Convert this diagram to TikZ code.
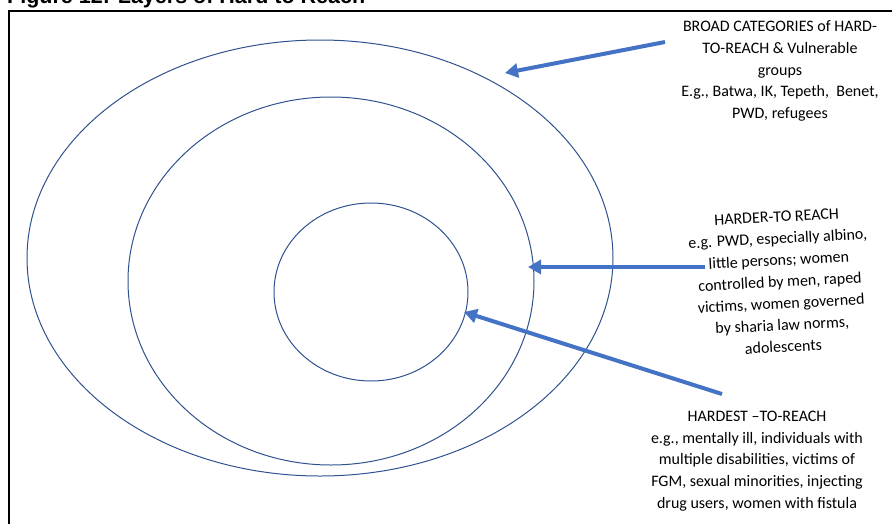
\documentclass[tikz,border=0pt]{standalone}
\usepackage{fontspec}
\setmainfont{Carlito}
\newfontfamily\titlefont{Liberation Sans}
\usetikzlibrary{shapes.geometric,arrows.meta}
\definecolor{ringblue}{HTML}{2F528F}
\definecolor{arrowblue}{HTML}{4472C4}
\tikzset{
  ring/.style={ellipse, draw=ringblue, line width=1pt, inner sep=0pt},
  pointer/.style={draw=arrowblue, line width=4pt,
    -{Triangle[length=13pt,width=14pt]}},
  label/.style={align=center, font=\fontsize{16}{21.7}\selectfont,
    inner sep=0pt, text=black},
  frame/.style={draw=black, line width=1.6pt}
}
\begin{document}
\begin{tikzpicture}[x=1pt,y=-1pt]
\useasboundingbox (0,0) rectangle (892,523);
% heading, mostly above the page edge
\node[anchor=base west, inner sep=0pt, font=\titlefont\bfseries\fontsize{21.5}{24}\selectfont]
  (title) at (7,3) {Figure 12: Layers of Hard to Reach};
% frame around the figure
\coordinate (fbl) at (9,530);
\coordinate (ftl) at (9,11);
\coordinate (ftr) at (900,11);
\draw[frame] (fbl) -- (ftl) -- (ftr);
% the three layers
\node[ring, minimum width=586pt, minimum height=436pt] (outer) at (320,258) {};
\node[ring, minimum width=406pt, minimum height=368pt] (middle) at (331,281) {};
\node[ring, minimum width=194pt, minimum height=178pt] (inner) at (371,292) {};
% captions
\node[label] (broad) at (780,71) {BROAD CATEGORIES of HARD-\\TO-REACH \& Vulnerable\\groups\\E.g., Batwa, IK, Tepeth,\ \ Benet,\\PWD, refugees};
\node[label, rotate=3] (harder) at (780,282) {HARDER-TO REACH\\e.g. PWD, especially albino,\\little persons; women\\controlled by men, raped\\victims, women governed\\by sharia law norms,\\adolescents};
\node[label] (hardest) at (757,461) {HARDEST –TO-REACH\\e.g., mentally ill, individuals with\\multiple disabilities, victims of\\FGM, sexual minorities, injecting\\drug users, women with fistula};
% pointers from captions to layers
\coordinate (p1s) at (665,42);
\coordinate (p1e) at (505,73);
\coordinate (p2s) at (705,267);
\coordinate (p2e) at (528,267);
\coordinate (p3s) at (722,394);
\coordinate (p3e) at (464,312);
\draw[pointer] (p1s) -- (p1e);
\draw[pointer] (p2s) -- (p2e);
\draw[pointer] (p3s) -- (p3e);
\end{tikzpicture}
\end{document}
